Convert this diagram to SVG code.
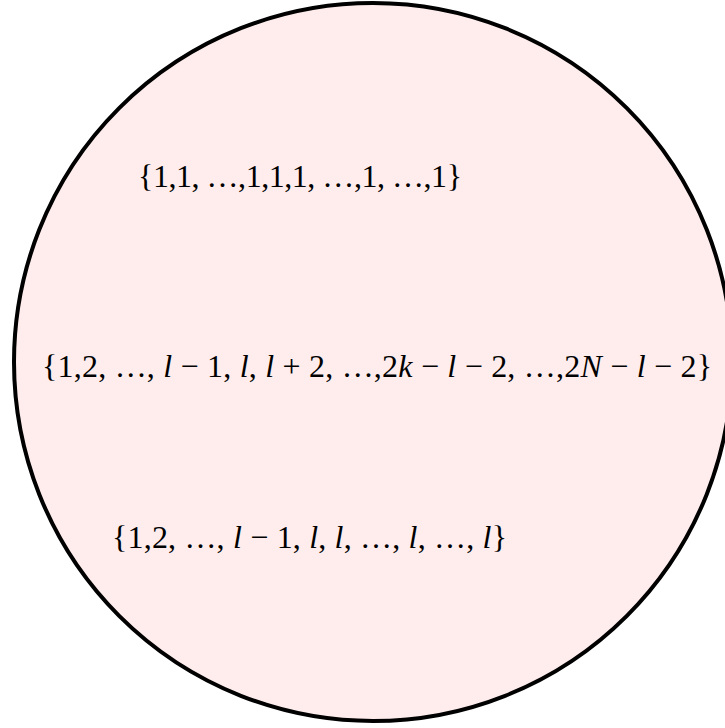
<svg xmlns="http://www.w3.org/2000/svg" width="725" height="728" viewBox="0 0 725 728">
<style>
.t{font-family:"Liberation Serif","Times New Roman",serif;font-size:32px;fill:#000}
.i{font-style:italic}
</style>
<rect width="725" height="728" fill="#fff"/>
<g id="set">
<circle cx="373" cy="362" r="359" fill="#ffeded" stroke="#000" stroke-width="4"/>
</g>
<g id="labels">
<text class="t" x="138" y="187" textLength="324" lengthAdjust="spacing">{1,1, …,1,1,1, …,1, …,1}</text>
<text class="t" x="42" y="377" textLength="670" lengthAdjust="spacing">{1,2, …, <tspan class="i">l</tspan> − 1, <tspan class="i">l</tspan>, <tspan class="i">l</tspan> + 2, …,2<tspan class="i">k</tspan> − <tspan class="i">l</tspan> − 2, …,2<tspan class="i">N</tspan> − <tspan class="i">l</tspan> − 2}</text>
<text class="t" x="112" y="548" textLength="395" lengthAdjust="spacing">{1,2, …, <tspan class="i">l</tspan> − 1, <tspan class="i">l</tspan>, <tspan class="i">l</tspan>, …, <tspan class="i">l</tspan>, …, <tspan class="i">l</tspan>}</text>
</g>
</svg>
